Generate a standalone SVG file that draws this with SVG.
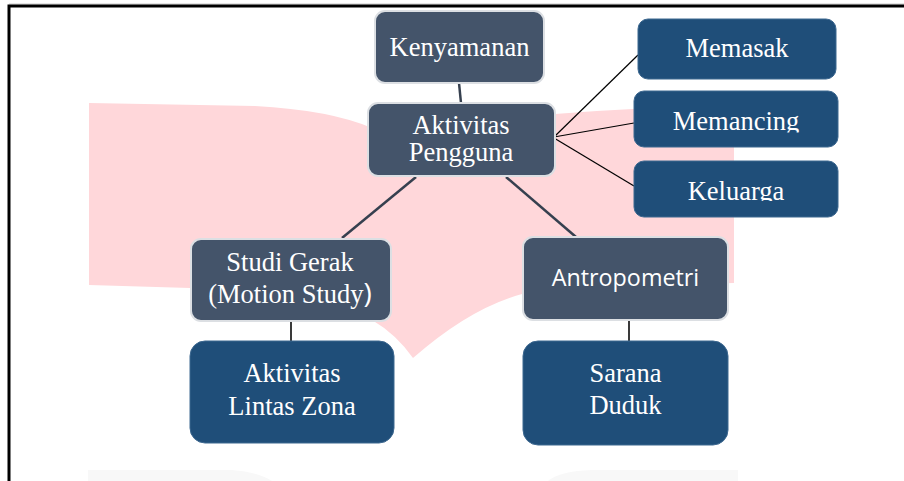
<svg xmlns="http://www.w3.org/2000/svg" width="904" height="481" viewBox="0 0 904 481">
<defs>
<style>
.slate{fill:#44546A;stroke:#dcdfe3;stroke-width:2}
.blue{fill:#1F4E79;stroke:#3d6890;stroke-width:1}
.t{font-family:"Liberation Serif","Times New Roman",serif;font-size:26.5px;fill:#ffffff;text-anchor:middle}
.s{font-family:"Open Sans","Noto Sans",sans-serif;font-size:23.3px;fill:#ffffff;text-anchor:middle}
.thick{stroke:#36404f;stroke-width:2.5;fill:none}
.thin{stroke:#000000;stroke-width:1.2;fill:none}
.v{stroke:#3a3a3a;stroke-width:2;fill:none}
</style>
<clipPath id="c1"><rect x="634" y="91" width="204" height="41.5"/></clipPath>
<clipPath id="c2"><rect x="634" y="161" width="204" height="40"/></clipPath>
</defs>
<rect width="904" height="481" fill="#ffffff"/>
<g id="background">
<path d="M89 103 L255 106 Q330 110 372 128 L555 114 Q650 106 734 107 L734 283 Q560 287 522 294 Q470 308 413 358 Q396 334 372 320 Q320 292 190 288 L89 285 Z" fill="#FFD7DA"/>
<path d="M88 481 L88 470 L232 470 Q258 472 272 481 Z" fill="#f8f8f8"/>
<path d="M548 481 Q560 471 592 470 L738 470 L738 481 Z" fill="#f8f8f8"/>
</g>
<g id="frame">
<line x1="9" y1="4" x2="904" y2="4" stroke="#c8c8c8" stroke-width="1"/>
<path d="M9 481 L9 6 L904 6" fill="none" stroke="#000000" stroke-width="3"/>
</g>
<g id="connectors">
<line class="thick" x1="459" y1="83" x2="461" y2="103"/>
<line class="thin" x1="554" y1="137" x2="638" y2="55"/>
<line class="thin" x1="554" y1="137" x2="634" y2="123"/>
<line class="thin" x1="554" y1="138" x2="634" y2="186"/>
<line class="thick" x1="416" y1="177" x2="342" y2="238"/>
<line class="thick" x1="506" y1="177" x2="576" y2="237"/>
<line class="v" x1="291" y1="321" x2="291" y2="341"/>
<line class="v" x1="629" y1="320" x2="629" y2="341"/>
</g>
<g id="kenyamanan">
<rect class="slate" x="375" y="11" width="169" height="72" rx="10"/>
<text class="t" x="459.5" y="56">Kenyamanan</text>
</g>
<g id="aktivitas-pengguna">
<rect class="slate" x="368" y="103" width="187" height="73" rx="10"/>
<text class="t" x="461" y="134">Aktivitas</text>
<text class="t" x="461" y="161">Pengguna</text>
</g>
<g id="memasak">
<rect class="blue" x="638" y="19" width="198" height="60" rx="10"/>
<text class="t" x="737" y="57">Memasak</text>
</g>
<g id="memancing">
<rect class="blue" x="634" y="91" width="204" height="56" rx="10"/>
<text class="t" x="736" y="129.5" clip-path="url(#c1)">Memancing</text>
</g>
<g id="keluarga">
<rect class="blue" x="634" y="161" width="204" height="56" rx="10"/>
<text class="t" x="736" y="199.5" clip-path="url(#c2)">Keluarga</text>
</g>
<g id="studi-gerak">
<rect class="slate" x="191" y="239" width="200" height="82" rx="10"/>
<text class="t" x="290" y="271">Studi Gerak</text>
<text class="t" x="290" y="303">(Motion Study<tspan font-family="'Open Sans','Noto Sans',sans-serif" font-size="28">)</tspan></text>
</g>
<g id="antropometri">
<rect class="slate" x="523" y="237" width="205" height="83" rx="10"/>
<text class="s" x="625.5" y="286">Antropometri</text>
</g>
<g id="aktivitas-lintas-zona">
<rect class="blue" x="190" y="341" width="204" height="102" rx="15"/>
<text class="t" x="292" y="382">Aktivitas</text>
<text class="t" x="292" y="415">Lintas Zona</text>
</g>
<g id="sarana-duduk">
<rect class="blue" x="523" y="341" width="205" height="104" rx="15"/>
<text class="t" x="625.5" y="382">Sarana</text>
<text class="t" x="625.5" y="414">Duduk</text>
</g>
</svg>
